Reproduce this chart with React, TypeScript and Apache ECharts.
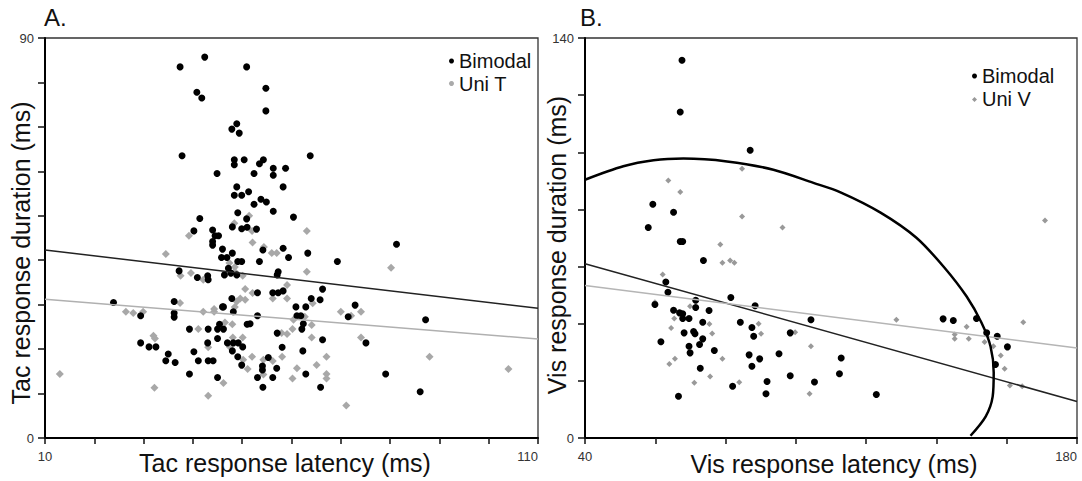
import React, { useEffect, useRef } from 'react';
import * as echarts from 'echarts';

const FONT = '"Liberation Sans", Arial, Helvetica, sans-serif';

// Panel A: tactile responses (latency ms, duration ms)
const leftBimodal: [number, number][] = [
  [37.4, 83.5], [42.4, 85.7], [50.9, 83.5], [54.8, 78.7], [40.8, 77.8], [41.8, 76.5], [54.8, 73.6], [48.9, 70.7],
  [47.9, 69.5], [49.4, 68.6], [37.8, 63.5], [48.4, 62.6], [48.4, 61.5], [50.4, 62.6], [54.3, 62.6], [53.5, 61.7],
  [56.3, 60.7], [56.3, 59.1], [58.8, 60.7], [44.9, 59.5], [52.4, 59.5], [48.9, 56.5], [58.3, 56.5], [48.4, 54.6],
  [49.9, 54.6], [51.3, 55.4], [52.4, 52.6], [53.8, 53.7], [54.9, 53.1], [49.1, 50.7], [56.3, 51.0], [60.4, 49.7],
  [41.4, 49.4], [50.9, 49.3], [48.0, 47.5], [49.9, 47.1], [51.0, 47.4], [40.2, 46.6], [44.0, 46.8], [44.5, 45.5],
  [45.2, 45.5], [63.8, 63.5], [52.9, 47.0], [44.0, 44.2], [44.0, 43.4], [46.0, 42.5], [48.0, 41.6], [45.8, 40.6],
  [46.9, 40.6], [49.1, 39.7], [49.9, 39.7], [47.2, 38.2], [47.7, 37.1], [48.9, 36.7], [46.4, 36.7], [37.2, 37.6],
  [40.9, 36.1], [43.0, 36.5], [43.1, 35.6], [36.2, 30.7], [47.9, 31.4], [46.2, 29.5], [54.2, 42.3], [58.3, 42.7],
  [59.4, 40.6], [63.3, 41.6], [69.3, 39.7], [53.5, 39.7], [57.3, 37.4], [57.1, 36.7], [53.1, 32.7], [56.2, 32.7],
  [57.3, 32.7], [58.3, 33.1], [66.3, 33.5], [64.0, 31.4], [65.8, 31.1], [60.9, 29.5], [62.9, 29.5], [36.2, 28.1],
  [36.2, 27.2], [46.0, 29.5], [48.2, 28.4], [39.3, 24.5], [43.1, 24.5], [45.0, 24.5], [46.2, 24.5], [45.4, 25.6],
  [51.0, 25.6], [45.0, 22.4], [43.0, 21.4], [47.0, 21.4], [48.2, 21.4], [49.2, 21.4], [50.1, 20.5], [40.2, 19.4],
  [48.0, 19.6], [49.1, 18.3], [36.4, 17.0], [41.1, 17.4], [43.1, 17.4], [44.1, 17.4], [49.9, 16.4], [39.3, 14.4],
  [45.0, 13.6], [53.1, 27.5], [51.6, 25.7], [61.1, 27.5], [62.4, 25.7], [62.1, 24.5], [57.1, 23.6], [66.3, 22.1],
  [58.1, 20.4], [62.3, 19.6], [55.3, 18.1], [54.1, 16.2], [54.1, 15.3], [57.0, 15.7], [53.1, 13.6], [56.2, 13.6],
  [62.9, 14.4], [54.2, 11.4], [65.9, 11.4], [23.9, 30.5], [29.4, 27.5], [29.4, 21.4], [31.1, 20.5], [32.5, 20.5],
  [35.0, 18.9], [34.5, 17.4], [81.3, 43.6], [72.9, 29.9], [71.5, 27.3], [61.9, 27.5], [87.2, 26.6], [75.1, 21.4],
  [79.1, 14.4], [86.1, 10.4],
];

const leftUniT: [number, number][] = [
  [51.4, 50.0], [48.4, 48.3], [52.0, 46.6], [39.2, 45.5], [63.1, 46.6], [52.1, 44.0], [47.4, 39.4], [48.5, 37.4],
  [50.1, 36.5], [37.5, 36.5], [39.6, 37.1], [42.1, 35.6], [50.6, 33.5], [52.1, 32.6], [37.4, 30.4], [49.6, 31.4],
  [50.6, 31.1], [48.9, 30.7], [48.5, 29.5], [44.3, 29.0], [54.4, 43.0], [56.0, 41.6], [57.0, 41.6], [63.1, 37.4],
  [59.1, 34.4], [56.2, 31.4], [59.1, 31.4], [64.3, 30.3], [42.1, 28.4], [44.3, 28.4], [41.1, 24.5], [46.5, 26.0],
  [48.0, 25.6], [48.1, 22.6], [50.1, 22.6], [43.1, 20.4], [47.5, 20.5], [52.0, 18.3], [50.2, 17.6], [51.1, 15.5],
  [46.2, 12.4], [43.1, 9.5], [60.4, 26.6], [62.7, 27.3], [64.1, 25.4], [60.2, 24.5], [59.1, 23.4], [58.0, 23.6],
  [64.1, 22.6], [58.1, 18.3], [54.3, 17.6], [56.2, 17.3], [61.1, 15.7], [65.1, 16.4], [67.1, 18.3], [54.3, 14.3],
  [60.2, 13.4], [67.1, 14.4], [67.1, 13.4], [13.0, 14.4], [26.4, 28.4], [27.9, 28.1], [29.9, 28.4], [32.0, 23.0],
  [32.3, 22.4], [32.2, 11.3], [34.5, 41.4], [80.2, 38.3], [70.0, 28.4], [72.1, 27.5], [74.1, 28.4], [74.1, 22.6],
  [88.0, 18.3], [104.0, 15.5], [71.1, 7.3], [48.5, 38.5],
];

const leftBimodalFit: [number, number][] = [[10, 42.3], [110, 29.2]];
const leftUniTFit: [number, number][] = [[10, 31.2], [110, 22.3]];

// Panel B: visual responses
const rightBimodal: [number, number][] = [
  [67.6, 132.2], [67.1, 114.1], [87.0, 100.7], [59.3, 81.8], [65.2, 79.0], [58.0, 73.7], [67.1, 68.8], [67.8, 68.8],
  [73.7, 62.1], [63.0, 54.6], [63.6, 51.0], [59.9, 46.7], [71.5, 48.2], [65.2, 44.7], [66.9, 43.8], [67.8, 43.5],
  [71.5, 45.7], [75.3, 44.6], [81.5, 49.2], [88.4, 46.3], [67.8, 41.8], [69.6, 41.8], [73.5, 40.5], [61.6, 33.7],
  [68.2, 36.8], [70.9, 37.3], [71.3, 36.5], [84.2, 40.5], [87.5, 38.7], [88.0, 35.6], [98.4, 36.8], [104.3, 41.4],
  [69.6, 32.1], [69.9, 29.8], [72.6, 32.7], [73.5, 34.7], [76.8, 30.6], [86.7, 29.1], [87.5, 25.1], [89.7, 27.7],
  [95.2, 29.5], [72.8, 24.4], [98.4, 21.8], [82.0, 18.1], [91.8, 19.8], [91.5, 15.5], [105.3, 19.6], [66.6, 14.6],
  [141.9, 41.7], [144.8, 41.1], [151.4, 41.8], [154.3, 36.8], [157.3, 35.6], [160.2, 31.9], [156.8, 25.7],
  [112.9, 28.0], [112.4, 22.5], [122.9, 15.2],
];

const rightUniV: [number, number][] = [
  [84.7, 94.2], [63.7, 90.1], [67.1, 86.1], [84.7, 77.5], [96.2, 73.7], [78.5, 67.7], [79.1, 61.3], [81.3, 62.1],
  [82.5, 61.3], [62.1, 57.2], [59.9, 47.5], [69.9, 46.1], [65.4, 41.8], [75.4, 39.9], [64.5, 38.5], [76.2, 36.6],
  [89.4, 40.0], [90.1, 36.5], [99.8, 37.0], [104.3, 32.1], [64.0, 25.9], [65.6, 27.7], [79.1, 27.7], [71.1, 19.3],
  [75.6, 21.5], [83.9, 19.5], [103.9, 15.5], [128.6, 41.4], [164.7, 40.5], [148.6, 38.9], [145.2, 36.2],
  [145.2, 34.7], [149.2, 34.7], [153.7, 33.6], [156.2, 32.1], [158.3, 28.9], [159.4, 24.2], [160.9, 18.4],
  [164.4, 18.1], [170.9, 76.1],
];

const rightBimodalFit: [number, number][] = [[40, 61.0], [180, 12.8]];
const rightUniVFit: [number, number][] = [[40, 53.4], [180, 31.5]];

const rightEllipse: [number, number][] = [
  [40, 90.4], [50.9, 95.1], [59.5, 97.2], [68.0, 97.8], [80.4, 96.8], [93.6, 93.9], [105.0, 89.3], [112.7, 86.0],
  [124.1, 78.9], [134.3, 70.1], [142.3, 59.6], [148.6, 49.5], [152.8, 40.4], [155.4, 32.0], [156.3, 22.9],
  [156.0, 14.5], [154.0, 7.5], [149.7, 0.8],
];

// Tick labels shown
const leftXLabels = [10, 110];
const leftYLabels = [0, 90];
const rightXLabels = [40, 180];
const rightYLabels = [0, 140];

const axisBase = (labels: number[], isX: boolean) => ({
  type: 'value' as const,
  splitLine: { show: false },
  axisLine: { show: true, onZero: false, lineStyle: { color: '#000', width: 2 } },
  axisTick: { show: true, inside: false, length: isX ? 6 : 7, lineStyle: { color: '#111', width: 1.5 } },
  axisLabel: {
    show: true,
    fontFamily: FONT,
    fontSize: 13,
    color: '#333',
    margin: isX ? 12 : 11,
    alignMaxLabel: isX ? 'right' : undefined,
    formatter: (v: number) => (labels.includes(Math.round(v)) ? String(Math.round(v)) : ''),
  },
});

export default function App() {
  const ref = useRef<HTMLDivElement>(null);
  useEffect(() => {
    if (!ref.current) return;
    const chart = echarts.init(ref.current, null, { renderer: 'svg' });
    const titleStyle = { fontFamily: FONT, fontSize: 25, fill: '#111' };
    chart.setOption({
      animation: false,
      backgroundColor: '#fff',
      grid: [
        { left: 45, top: 38, width: 493, height: 400, show: true, borderColor: '#333', borderWidth: 1.3, backgroundColor: 'transparent' },
        { left: 585, top: 38, width: 492, height: 400, show: true, borderColor: '#333', borderWidth: 1.3, backgroundColor: 'transparent' },
      ],
      xAxis: [
        { ...axisBase(leftXLabels, true), gridIndex: 0, min: 10, max: 110, interval: 10 },
        { ...axisBase(rightXLabels, true), gridIndex: 1, min: 40, max: 180, interval: 20 },
      ],
      yAxis: [
        { ...axisBase(leftYLabels, false), gridIndex: 0, min: 0, max: 90, interval: 10 },
        { ...axisBase(rightYLabels, false), gridIndex: 1, min: 0, max: 140, interval: 20 },
      ],
      legend: [
        {
          orient: 'vertical', left: 444, top: 46, itemWidth: 5, itemHeight: 5, itemGap: 2.5, selectedMode: false,
          textStyle: { fontFamily: FONT, fontSize: 20, color: '#111', lineHeight: 20 },
          data: [
            { name: 'Bimodal', icon: 'circle', itemStyle: { color: '#000' } },
            { name: 'Uni T', icon: 'circle', itemStyle: { color: '#aaa' } },
          ],
        },
        {
          orient: 'vertical', left: 967, top: 61, itemWidth: 5, itemHeight: 5, itemGap: 3.4, selectedMode: false,
          textStyle: { fontFamily: FONT, fontSize: 20, color: '#111', lineHeight: 20 },
          data: [
            { name: 'Bimodal', icon: 'circle', itemStyle: { color: '#000' } },
            { name: 'Uni V', icon: 'diamond', itemStyle: { color: '#999' } },
          ],
        },
      ],
      graphic: [
        { type: 'text', x: 44, y: 17, style: { text: 'A.', fontFamily: FONT, fontSize: 24, fill: '#111', verticalAlign: 'middle', align: 'left' } },
        { type: 'text', x: 580, y: 17, style: { text: 'B.', fontFamily: FONT, fontSize: 24, fill: '#111', verticalAlign: 'middle', align: 'left' } },
        { type: 'text', x: 285, y: 463, style: { ...titleStyle, text: 'Tac response latency (ms)', align: 'center', verticalAlign: 'middle' } },
        { type: 'text', x: 21, y: 253, rotation: Math.PI / 2, style: { ...titleStyle, text: 'Tac response duration (ms)', align: 'center', verticalAlign: 'middle' } },
        { type: 'text', x: 834, y: 464, style: { ...titleStyle, text: 'Vis response latency (ms)', align: 'center', verticalAlign: 'middle' } },
        { type: 'text', x: 557, y: 245, rotation: Math.PI / 2, style: { ...titleStyle, text: 'Vis response duration (ms)', align: 'center', verticalAlign: 'middle' } },
      ],
      series: [
        { name: 'Uni T', type: 'scatter', xAxisIndex: 0, yAxisIndex: 0, data: leftUniT, symbol: 'diamond', symbolSize: 8, itemStyle: { color: '#a8a8a8', opacity: 1 }, z: 2 },
        { name: 'Bimodal', type: 'scatter', xAxisIndex: 0, yAxisIndex: 0, data: leftBimodal, symbol: 'circle', symbolSize: 7, itemStyle: { color: '#000', opacity: 1 }, z: 3 },
        { name: 'Bimodal fit A', type: 'line', xAxisIndex: 0, yAxisIndex: 0, data: leftBimodalFit, symbol: 'none', lineStyle: { color: '#222', width: 1.5 }, z: 4 },
        { name: 'Uni T fit', type: 'line', xAxisIndex: 0, yAxisIndex: 0, data: leftUniTFit, symbol: 'none', lineStyle: { color: '#b0b0b0', width: 1.5 }, z: 4 },
        { name: 'Uni V', type: 'scatter', xAxisIndex: 1, yAxisIndex: 1, data: rightUniV, symbol: 'diamond', symbolSize: 6, itemStyle: { color: '#999', opacity: 1 }, z: 2 },
        { name: 'Bimodal', type: 'scatter', xAxisIndex: 1, yAxisIndex: 1, data: rightBimodal, symbol: 'circle', symbolSize: 7, itemStyle: { color: '#000', opacity: 1 }, z: 3 },
        { name: 'Bimodal fit B', type: 'line', xAxisIndex: 1, yAxisIndex: 1, data: rightBimodalFit, symbol: 'none', lineStyle: { color: '#222', width: 1.5 }, z: 4 },
        { name: 'Uni V fit', type: 'line', xAxisIndex: 1, yAxisIndex: 1, data: rightUniVFit, symbol: 'none', lineStyle: { color: '#b5b5b5', width: 1.5 }, z: 4 },
        { name: 'Ellipse', type: 'line', xAxisIndex: 1, yAxisIndex: 1, data: rightEllipse, symbol: 'none', smooth: 0.3, lineStyle: { color: '#000', width: 2.5 }, z: 5 },
      ],
    });
    return () => chart.dispose();
  }, []);
  return <div ref={ref} style={{ position: 'absolute', left: 0, top: 0, width: 1082, height: 481, background: '#fff' }} />;
}
